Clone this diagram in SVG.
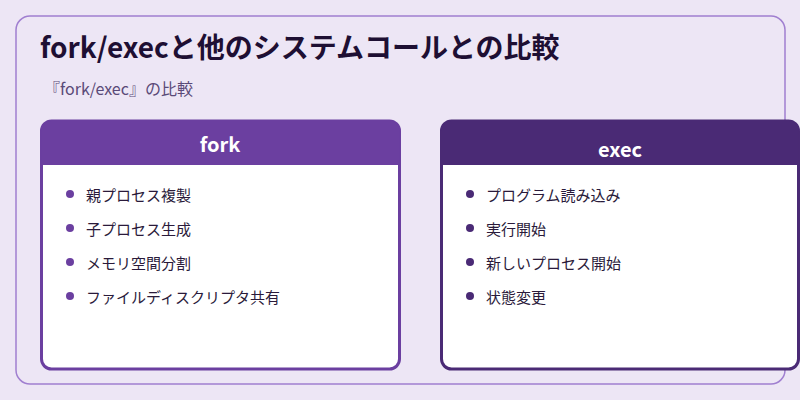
<svg xmlns="http://www.w3.org/2000/svg" width="800" height="400" viewBox="0 0 800 400">
<style>
text{font-family:"Noto Sans CJK JP","Noto Sans",sans-serif}
.it{font-size:15px;fill:#2a1a3a}
.hd{font-size:20px;font-weight:bold;fill:#fff;text-anchor:middle}
</style>
<rect width="800" height="400" fill="#ede6f5"/>
<rect x="16" y="16" width="769" height="368" rx="14" fill="none" stroke="#a07fd0" stroke-width="1.5"/>
<text x="40" y="58" font-size="28" font-weight="bold" fill="#1e0f33">fork/execと他のシステムコールとの比較</text>
<text x="44" y="95" font-size="16" fill="#5a4a78">『fork/exec』の比較</text>
<g id="fork">
<rect x="41.5" y="121" width="358" height="248" rx="10" fill="#fff" stroke="#6b3fa0" stroke-width="3"/>
<path d="M41.5 165 V131 a10 10 0 0 1 10 -10 H389.5 a10 10 0 0 1 10 10 V165 Z" fill="#6b3fa0"/>
<text class="hd" x="220" y="152">fork</text>
<g fill="#6b3fa0"><circle cx="70" cy="194" r="4"/><circle cx="70" cy="228" r="4"/><circle cx="70" cy="262" r="4"/><circle cx="70" cy="296" r="4"/></g>
<text class="it" x="86" y="201">親プロセス複製</text>
<text class="it" x="86" y="235">子プロセス生成</text>
<text class="it" x="86" y="269">メモリ空間分割</text>
<text class="it" x="86" y="303">ファイルディスクリプタ共有</text>
</g>
<g id="exec">
<rect x="441.5" y="121" width="357" height="248" rx="10" fill="#fff" stroke="#4a2a75" stroke-width="3"/>
<path d="M441.5 165 V131 a10 10 0 0 1 10 -10 H788.5 a10 10 0 0 1 10 10 V165 Z" fill="#4a2a75"/>
<text class="hd" x="620" y="157">exec</text>
<g fill="#4a2a75"><circle cx="470" cy="194" r="4"/><circle cx="470" cy="228" r="4"/><circle cx="470" cy="262" r="4"/><circle cx="470" cy="296" r="4"/></g>
<text class="it" x="486" y="201">プログラム読み込み</text>
<text class="it" x="486" y="235">実行開始</text>
<text class="it" x="486" y="269">新しいプロセス開始</text>
<text class="it" x="486" y="303">状態変更</text>
</g>
<g id="connectors"/>
</svg>
